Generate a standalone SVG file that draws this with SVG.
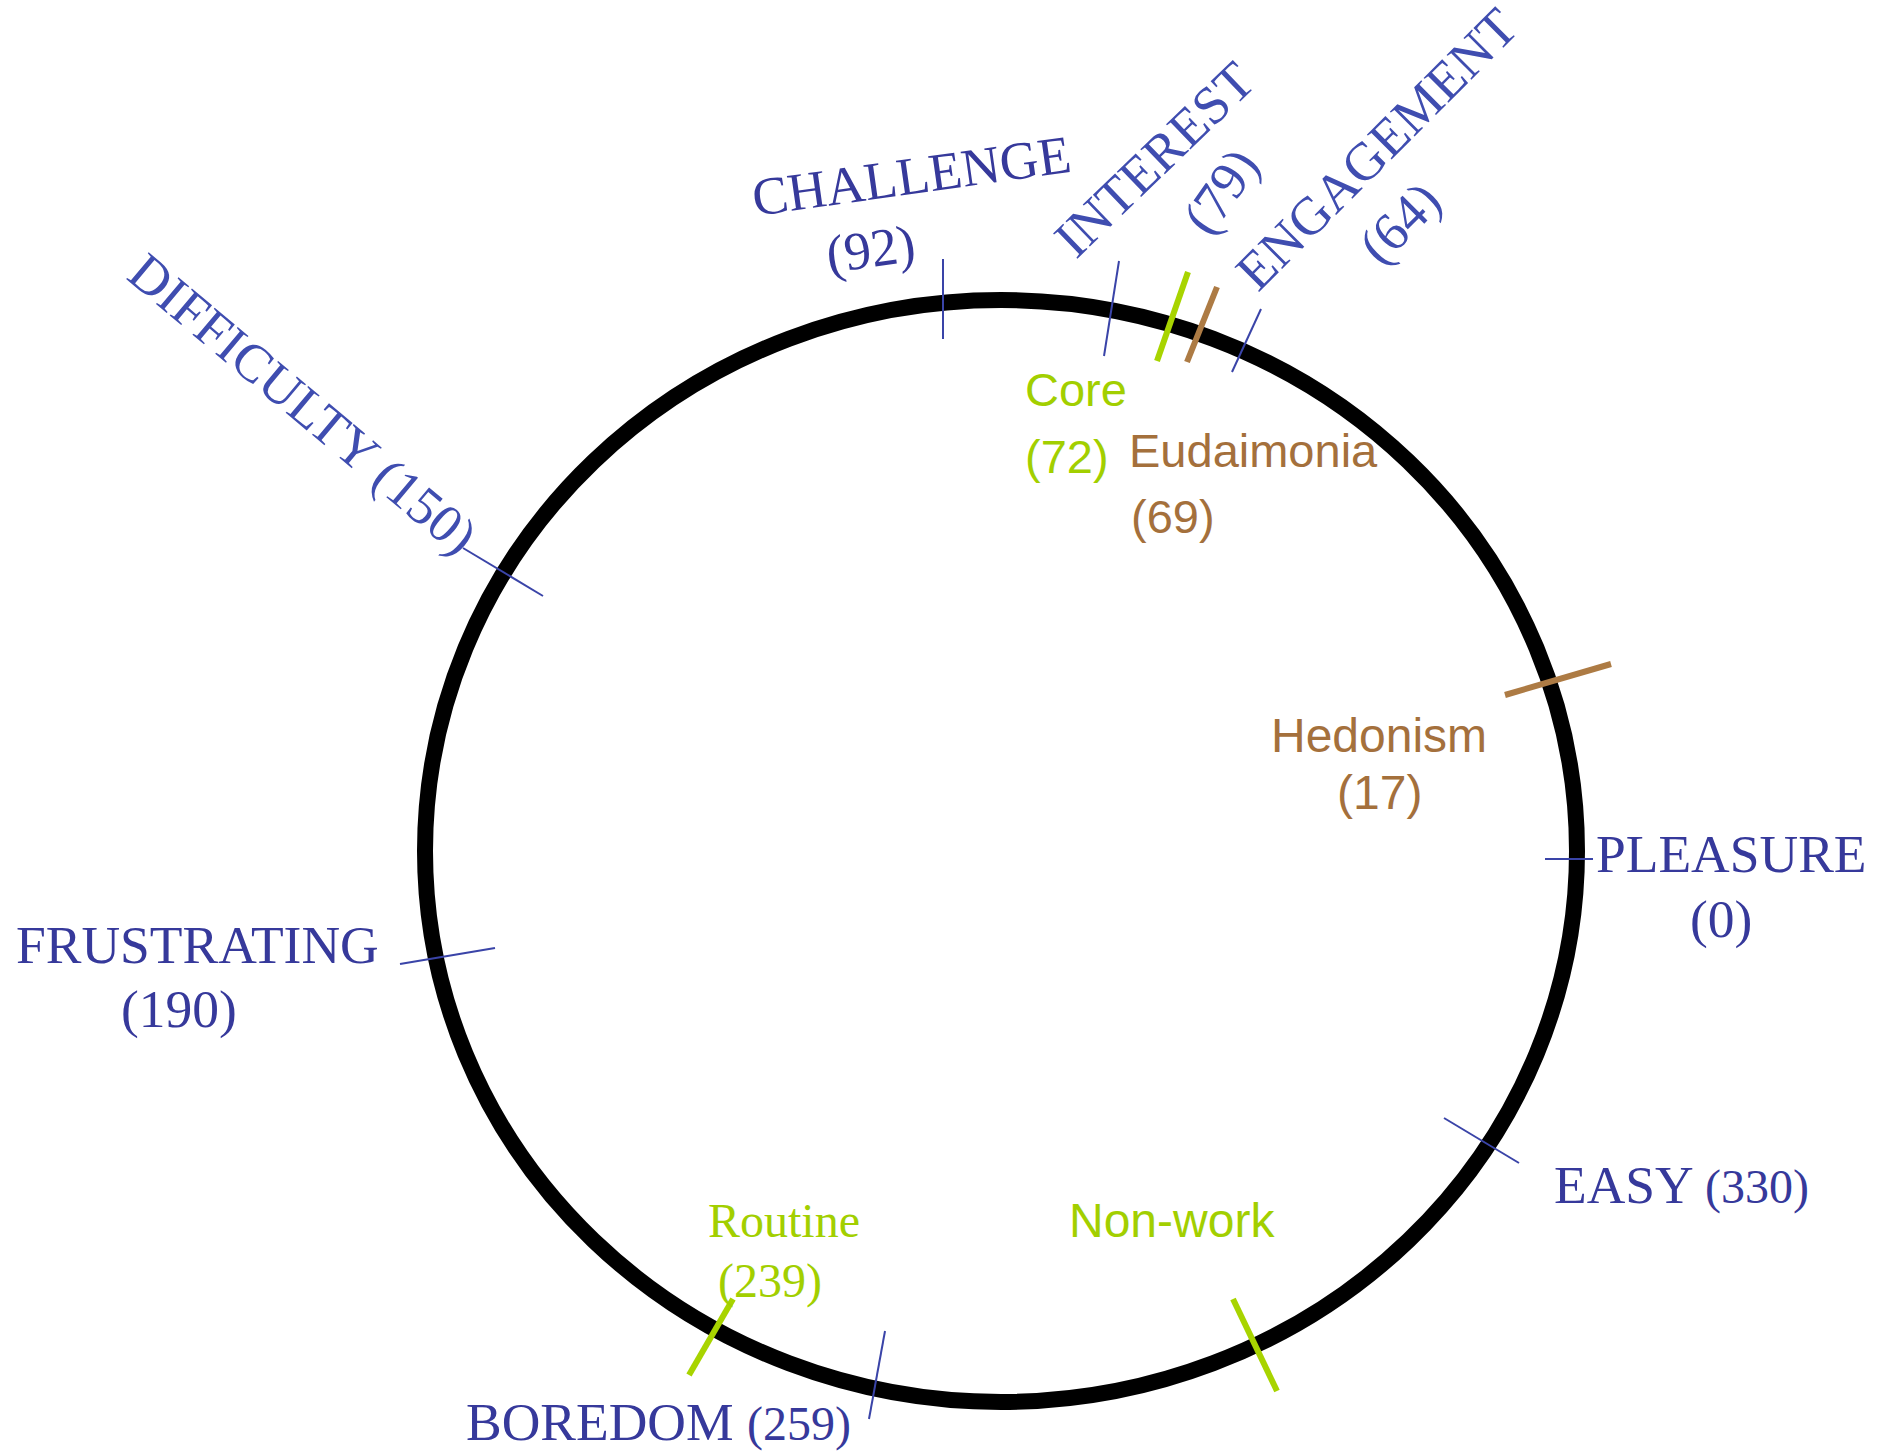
<svg xmlns="http://www.w3.org/2000/svg" width="1883" height="1452" viewBox="0 0 1883 1452">
<style>
.serif{font-family:"Liberation Serif","Times New Roman",serif;}
.sans{font-family:"Liberation Sans",Arial,sans-serif;}
.blue{fill:#36399b;}
.blue2{fill:#3f4db0;}
.green{fill:#a2cf00;}
.brown{fill:#a4703c;}
.tb{stroke:#3a44a8;stroke-width:2;fill:none;}
.tg{stroke:#a8d400;stroke-width:6;fill:none;}
.tr{stroke:#ad7b44;stroke-width:6;fill:none;}
.big{font-size:53.5px;}
.mid{font-size:48px;}
.sm{font-size:47px;}
</style>
<rect width="1883" height="1452" fill="#ffffff"/>
<g id="ring">
<ellipse cx="1001" cy="851" rx="576" ry="551" fill="none" stroke="#000000" stroke-width="16"/>
</g>
<g id="pleasure">
<line class="tb" x1="1545" y1="859" x2="1593" y2="859"/>
<text class="serif blue big" x="1596" y="872">PLEASURE</text>
<text class="serif blue big" x="1690" y="937">(0)</text>
</g>
<g id="hedonism">
<line class="tr" x1="1505" y1="695" x2="1611" y2="664"/>
<text class="sans brown mid" x="1271" y="752">Hedonism</text>
<text class="sans brown mid" x="1337" y="809">(17)</text>
</g>
<g id="engagement">
<line class="tb" x1="1261" y1="309" x2="1232" y2="372"/>
<text class="serif blue2 big" transform="translate(1258,293) rotate(-45)">ENGAGEMENT</text>
<text class="serif blue2 big" transform="translate(1381,267) rotate(-45)">(64)</text>
</g>
<g id="eudaimonia">
<line class="tr" x1="1217" y1="287" x2="1187" y2="362"/>
<text class="sans brown sm" x="1129" y="467">Eudaimonia</text>
<text class="sans brown sm" x="1131" y="533">(69)</text>
</g>
<g id="core">
<line class="tg" x1="1188" y1="272" x2="1157" y2="361"/>
<text class="sans green sm" x="1025" y="406">Core</text>
<text class="sans green sm" x="1025" y="473">(72)</text>
</g>
<g id="interest">
<line class="tb" x1="1119" y1="261" x2="1104" y2="356"/>
<text class="serif blue2 big" transform="translate(1076,260) rotate(-44)">INTEREST</text>
<text class="serif blue2 big" transform="translate(1210,238) rotate(-55)">(79)</text>
</g>
<g id="challenge">
<line class="tb" x1="943" y1="259" x2="943" y2="339"/>
<text class="serif blue big" transform="translate(755,216) rotate(-8)">CHALLENGE</text>
<text class="serif blue big" transform="translate(829,273) rotate(-8)">(92)</text>
</g>
<g id="difficulty">
<line class="tb" x1="463" y1="548" x2="543" y2="596"/>
<text class="serif blue2 big" transform="translate(125,278) rotate(40)">DIFFICULTY (150)</text>
</g>
<g id="frustrating">
<line class="tb" x1="400" y1="964" x2="495" y2="948"/>
<text class="serif blue big" x="16" y="963">FRUSTRATING</text>
<text class="serif blue big" x="121" y="1027">(190)</text>
</g>
<g id="routine">
<line class="tg" x1="733" y1="1299" x2="689" y2="1375"/>
<text class="serif green mid" x="708" y="1237">Routine</text>
<text class="serif green mid" x="718" y="1297">(239)</text>
</g>
<g id="boredom">
<line class="tb" x1="885" y1="1331" x2="869" y2="1419"/>
<text class="serif blue big" x="466" y="1440">BOREDOM <tspan class="mid">(259)</tspan></text>
</g>
<g id="nonwork">
<line class="tg" x1="1233" y1="1299" x2="1277" y2="1391"/>
<text class="sans green mid" x="1069" y="1237">Non-work</text>
</g>
<g id="easy">
<line class="tb" x1="1444" y1="1118" x2="1519" y2="1163"/>
<text class="serif blue big" x="1554" y="1203">EASY <tspan class="mid">(330)</tspan></text>
</g>
</svg>
